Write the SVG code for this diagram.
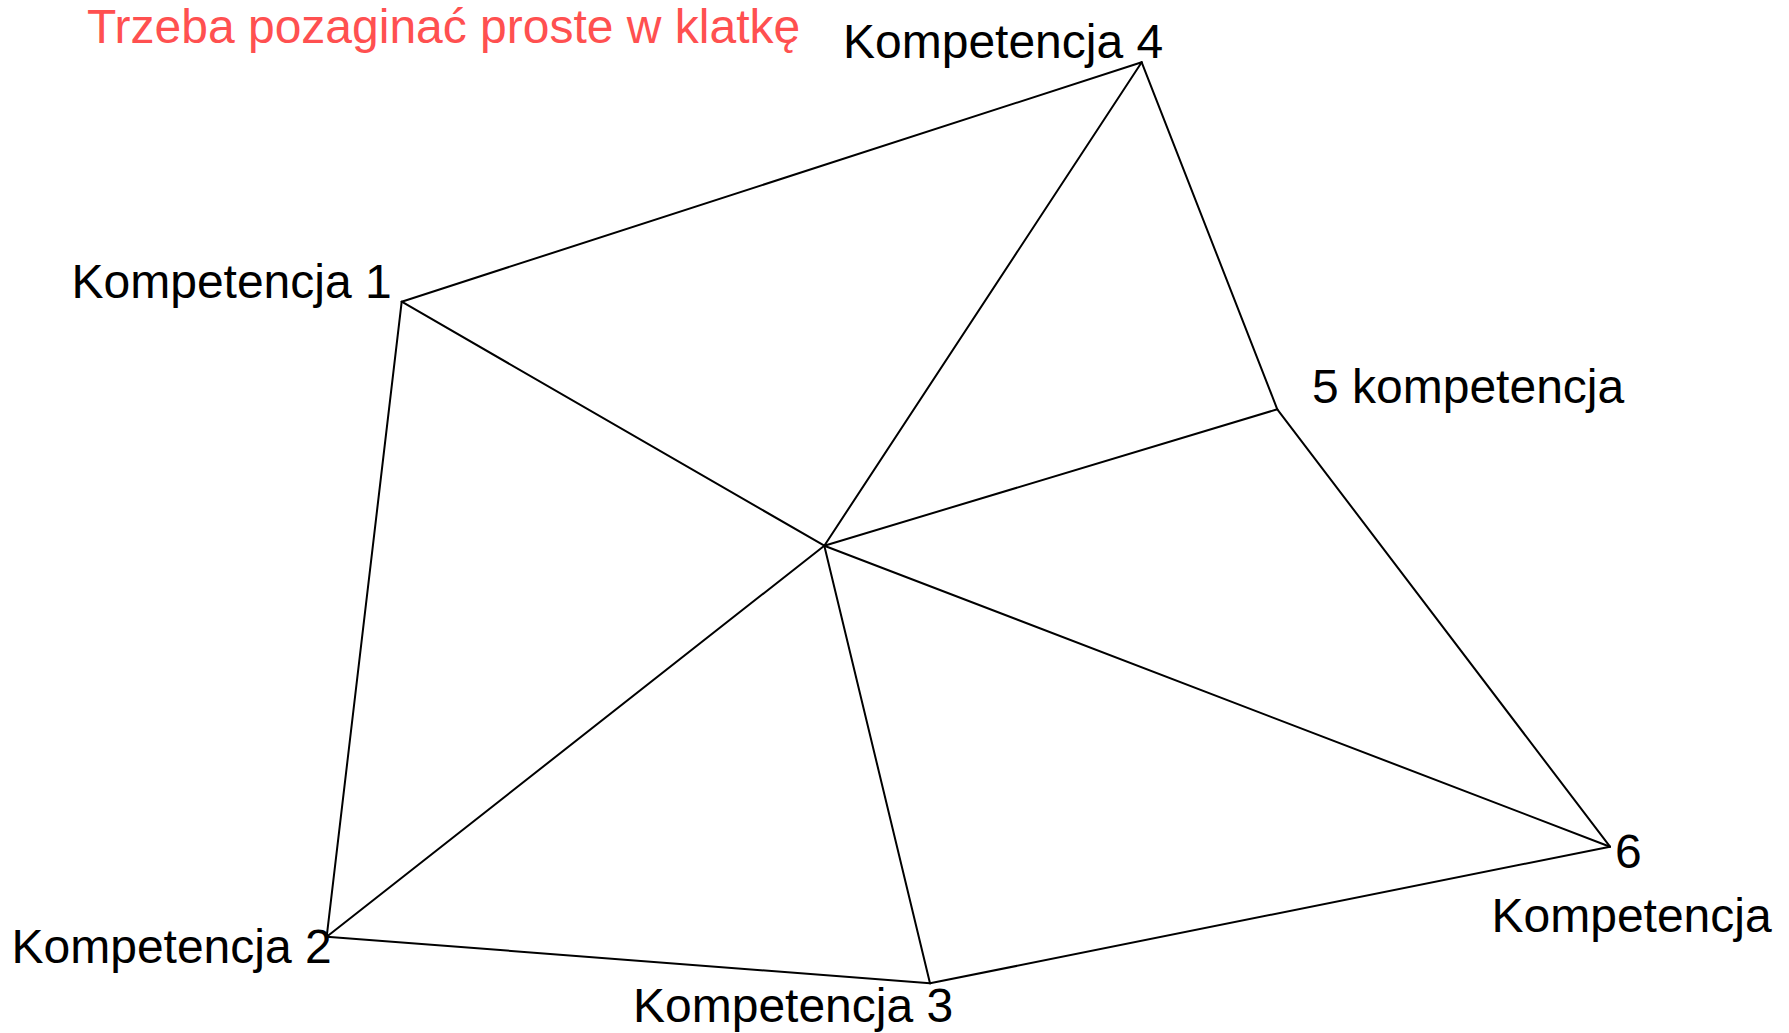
<svg xmlns="http://www.w3.org/2000/svg" width="1789" height="1033" viewBox="0 0 1789 1033">
  <style>
    .lbl { font-family: "Liberation Sans", Arial, sans-serif; font-size: 48px; fill: #000; }
    .note { font-family: "Liberation Sans", Arial, sans-serif; font-size: 48px; fill: #ff5050; }
    .edge { stroke: #000; stroke-width: 2; fill: none; stroke-linecap: round; }
  </style>
  <rect width="1789" height="1033" fill="#fff"/>

  <text class="note" x="87" y="42.7">Trzeba pozaginać proste w klatkę</text>

  <g id="connectors">
    <!-- outer ring -->
    <line class="edge" x1="401.7" y1="301.7" x2="1141.7" y2="62.3"/>
    <line class="edge" x1="1141.7" y1="62.3" x2="1277.3" y2="409.3"/>
    <line class="edge" x1="1277.3" y1="409.3" x2="1610" y2="846.7"/>
    <line class="edge" x1="1610" y1="846.7" x2="930" y2="983.3"/>
    <line class="edge" x1="930" y1="983.3" x2="326.7" y2="936.7"/>
    <line class="edge" x1="326.7" y1="936.7" x2="401.7" y2="301.7"/>
    <!-- spokes from the hub -->
    <line class="edge" x1="824.3" y1="545.7" x2="401.7" y2="301.7"/>
    <line class="edge" x1="824.3" y1="545.7" x2="1141.7" y2="62.3"/>
    <line class="edge" x1="824.3" y1="545.7" x2="1277.3" y2="409.3"/>
    <line class="edge" x1="824.3" y1="545.7" x2="1610" y2="846.7"/>
    <line class="edge" x1="824.3" y1="545.7" x2="930" y2="983.3"/>
    <line class="edge" x1="824.3" y1="545.7" x2="326.7" y2="936.7"/>
  </g>

  <g id="k1"><text class="lbl" x="71.5" y="298.3">Kompetencja 1</text></g>
  <g id="k2"><text class="lbl" x="11.5" y="963.3">Kompetencja 2</text></g>
  <g id="k3"><text class="lbl" x="633" y="1021.7">Kompetencja 3</text></g>
  <g id="k4"><text class="lbl" x="843" y="58.3">Kompetencja 4</text></g>
  <g id="k5"><text class="lbl" x="1312" y="403.3">5 kompetencja</text></g>
  <g id="k6">
    <text class="lbl" x="1615" y="868.3">6</text>
    <text class="lbl" x="1491.5" y="931.7">Kompetencja</text>
  </g>
</svg>
